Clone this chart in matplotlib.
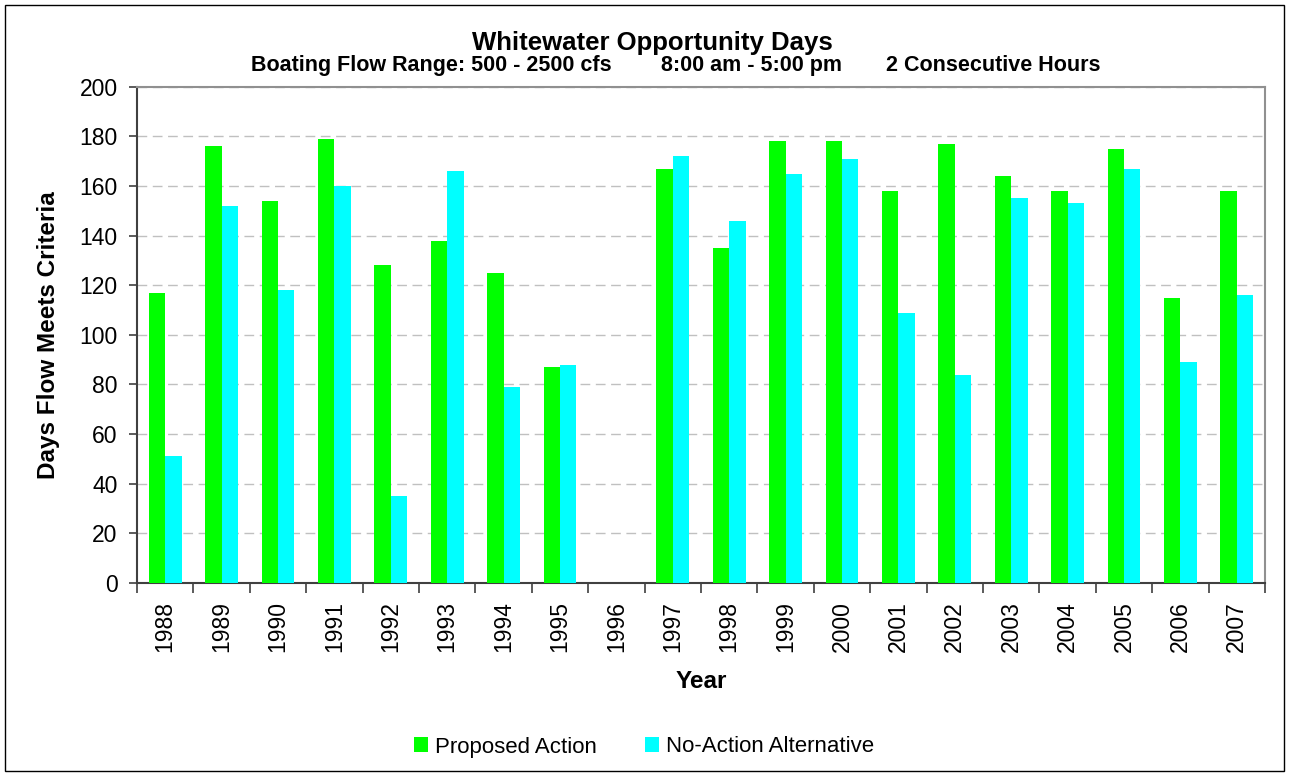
import numpy as np
import matplotlib
matplotlib.use("Agg")
import matplotlib.pyplot as plt
from matplotlib.patches import Rectangle

plt.rcParams['font.family'] = ['Liberation Sans', 'DejaVu Sans']

years = ['1988', '1989', '1990', '1991', '1992', '1993', '1994', '1995', '1996', '1997',
         '1998', '1999', '2000', '2001', '2002', '2003', '2004', '2005', '2006', '2007']
proposed = [117, 176, 154, 179, 128, 138, 125, 87, 0, 167,
            135, 178, 178, 158, 177, 164, 158, 175, 115, 158]
no_action = [51, 152, 118, 160, 35, 166, 79, 88, 0, 172,
             146, 165, 171, 109, 84, 155, 153, 167, 89, 116]

W, H = 1289, 775
fig = plt.figure(figsize=(W / 100, H / 100), dpi=100)
ax = fig.add_axes([137 / W, 1 - 583 / H, (1265 - 137) / W, (583 - 86.7) / H])

x = np.arange(len(years))
w = 0.29
ax.bar(x - w / 2, proposed, w, color='#00FF00', label='Proposed Action', zorder=3)
ax.bar(x + w / 2, no_action, w, color='#00FFFF', label='No-Action Alternative', zorder=3)

ax.set_xlim(-0.5, len(years) - 0.5)
ax.set_ylim(0, 200)
ax.set_yticks(np.arange(0, 201, 20))
ax.yaxis.grid(True, color='#c0c0c0', linestyle=(0, (7, 4)), linewidth=1, zorder=0)

# ticks on category boundaries, labels in the middle
ax.set_xticks(np.arange(-0.5, len(years), 1))
ax.set_xticklabels([])
ax.set_xticks(x, minor=True)
ax.set_xticklabels(years, minor=True, rotation=90, fontsize=16.5)
ax.tick_params(axis='x', which='major', direction='out', length=7, width=1.2, color='#404040')
ax.tick_params(axis='x', which='minor', length=0, pad=13)
ax.tick_params(axis='y', direction='out', length=6, width=1.2, color='#404040', labelsize=16.5, pad=8)

for s in ['left', 'bottom']:
    ax.spines[s].set_color('#404040')
    ax.spines[s].set_linewidth(1.5)
for s in ['top', 'right']:
    ax.spines[s].set_color('#909090')
    ax.spines[s].set_linewidth(1.5)

ax.set_xlabel('Year', fontsize=17.5, fontweight='bold', labelpad=13)
ax.set_ylabel('Days Flow Meets Criteria', fontsize=17.5, fontweight='bold', labelpad=14)

fig.text(652 / W, 1 - 50 / H, 'Whitewater Opportunity Days', ha='center', va='baseline',
         fontsize=18.5, fontweight='bold')
fig.text(612 / W, 1 - 71 / H, 'Boating Flow Range: 500 - 2500 cfs', ha='right', va='baseline',
         fontsize=15.5, fontweight='bold')
fig.text(661 / W, 1 - 71 / H, '8:00 am - 5:00 pm', ha='left', va='baseline',
         fontsize=15.5, fontweight='bold')
fig.text(886 / W, 1 - 71 / H, '2 Consecutive Hours', ha='left', va='baseline',
         fontsize=15.5, fontweight='bold')

fig.legend(loc='center', bbox_to_anchor=(644 / W, 1 - 747 / H), ncol=2, frameon=False,
           fontsize=16, handlelength=0.65, handleheight=0.65, handletextpad=0.3,
           columnspacing=2.15)

fig.patches.append(Rectangle((5 / W, 4 / H), (W - 10) / W, (H - 9) / H, transform=fig.transFigure,
                             fill=False, edgecolor='black', linewidth=1))

fig.savefig('out.png', dpi=100)
